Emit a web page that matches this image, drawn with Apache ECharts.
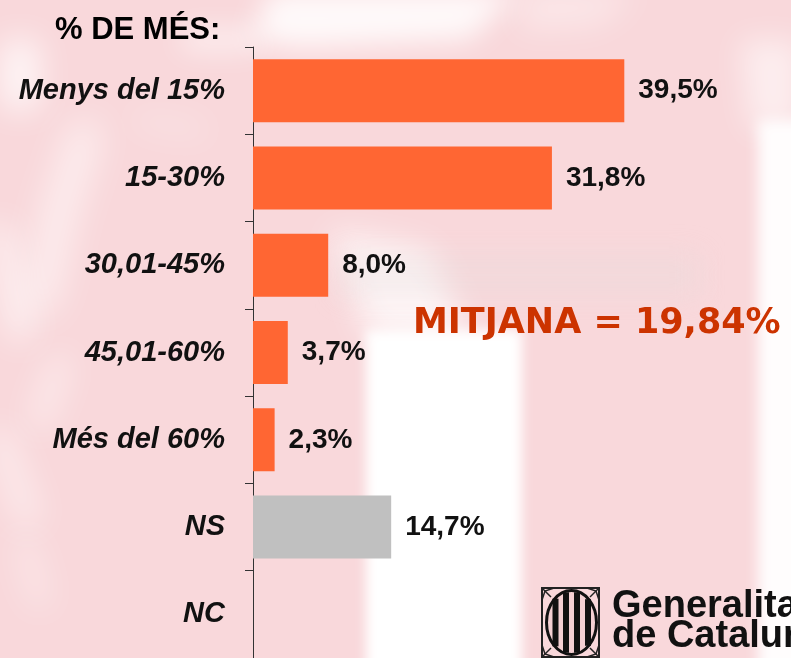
<!DOCTYPE html>
<html>
<head>
<meta charset="utf-8">
<script src="https://cdn.jsdelivr.net/npm/echarts@6/dist/echarts.min.js"></script>
<style>
html,body{margin:0;padding:0;background:#f9d8db;}
#c{width:791px;height:658px;}
</style>
</head>
<body>
<div id="c"></div>
<script>
const categories = ['Menys del 15%', '15-30%', '30,01-45%', '45,01-60%', 'Més del 60%', 'NS', 'NC'];
const values = [39.5, 31.8, 8.0, 3.7, 2.3, 14.7, null];
const titleText = '% DE MÉS:';
const meanText = 'MITJANA = 19,84%';
const logoLines = ['Generalitat', 'de Catalunya'];

const W = 791, H = 658;

// blurred decorative watermark backdrop, rendered to a canvas and shown as an ECharts image
function makeBackdrop() {
  const cv = document.createElement('canvas');
  cv.width = W; cv.height = H;
  const ctx = cv.getContext('2d');
  ctx.fillStyle = '#f9d8db';
  ctx.fillRect(0, 0, W, H);
  function blob(pts, alpha, blur) {
    ctx.save();
    ctx.filter = 'blur(' + blur + 'px)';
    ctx.globalAlpha = alpha;
    ctx.fillStyle = '#ffffff';
    ctx.beginPath();
    ctx.moveTo(pts[0][0], pts[0][1]);
    for (let i = 1; i < pts.length; i++) ctx.lineTo(pts[i][0], pts[i][1]);
    ctx.closePath();
    ctx.fill();
    ctx.restore();
  }
  function stroke(pts, width, alpha, blur) {
    ctx.save();
    ctx.filter = 'blur(' + blur + 'px)';
    ctx.globalAlpha = alpha;
    ctx.strokeStyle = '#ffffff';
    ctx.lineWidth = width;
    ctx.lineCap = 'round';
    ctx.beginPath();
    ctx.moveTo(pts[0][0], pts[0][1]);
    for (let i = 1; i < pts.length; i++) ctx.lineTo(pts[i][0], pts[i][1]);
    ctx.stroke();
    ctx.restore();
  }
  // lower white column
  blob([[366, 330], [522, 330], [522, 700], [366, 700]], 1, 6);
  blob([[330, 230], [430, 250], [470, 340], [370, 340]], 0.75, 16);
  // right white column
  blob([[758, 120], [820, 120], [820, 700], [758, 700]], 0.95, 7);
  blob([[740, 40], [800, 40], [800, 130], [750, 130]], 0.55, 15);
  // top haze
  blob([[270, -10], [520, -10], [470, 40], [300, 48], [250, 40]], 0.85, 14);
  blob([[520, -10], [640, -10], [600, 25], [520, 30]], 0.4, 16);
  // faint grey watermark band
  ctx.save();
  ctx.filter = 'blur(14px)';
  ctx.globalAlpha = 0.35;
  ctx.fillStyle = '#e6dcdd';
  ctx.fillRect(340, 255, 360, 40);
  ctx.restore();
  // left swirl (soft)
  blob([[0, 40], [40, 40], [40, 110], [0, 110]], 0.75, 16);
  stroke([[85, 135], [60, 210], [40, 300]], 30, 0.65, 18);
  stroke([[0, 235], [20, 330]], 26, 0.6, 16);
  stroke([[60, 365], [40, 420]], 22, 0.5, 16);
  stroke([[0, 440], [28, 515]], 26, 0.5, 16);
  stroke([[25, 545], [40, 600]], 20, 0.4, 16);
  stroke([[190, 40], [250, 40]], 20, 0.65, 14);
  stroke([[140, 120], [200, 130]], 16, 0.3, 16);
  return cv;
}

const chart = echarts.init(document.getElementById('c'), null, {renderer: 'canvas'});

const stripeX = [555.5, 566, 577, 588];
const logo = [
  {type: 'rect', z: 4, silent: true, shape: {x: 542, y: 588, width: 57, height: 69},
   style: {fill: 'none', stroke: '#222', lineWidth: 2}},
  {type: 'ellipse', z: 4, silent: true, shape: {cx: 571.5, cy: 622.5, rx: 25, ry: 32},
   style: {fill: '#f4d0d3', stroke: '#111', lineWidth: 3}}
];
stripeX.forEach(function (sx) {
  const dx = (sx - 571.5) / 25;
  const hh = 31 * Math.sqrt(Math.max(0, 1 - dx * dx));
  logo.push({type: 'rect', z: 5, silent: true,
    shape: {x: sx - 3, y: 622.5 - hh, width: 6, height: hh * 2}, style: {fill: '#111'}});
});
[[542, 588, 1, 1], [599, 588, -1, 1], [542, 657, 1, -1], [599, 657, -1, -1]].forEach(function (c) {
  logo.push({type: 'polyline', z: 5, silent: true,
    shape: {points: [[c[0], c[1] + c[3] * 12], [c[0] + c[2] * 3, c[1] + c[3] * 3], [c[0] + c[2] * 12, c[1]]]},
    style: {fill: 'none', stroke: '#222', lineWidth: 1.5}});
  logo.push({type: 'line', z: 5, silent: true,
    shape: {x1: c[0], y1: c[1], x2: c[0] + c[2] * 9, y2: c[1] + c[3] * 9},
    style: {stroke: '#222', lineWidth: 1.5}});
});

const option = {
  backgroundColor: '#f9d8db',
  animation: false,
  grid: {left: 253, right: 68, top: 47, height: 614, containLabel: false},
  xAxis: {type: 'value', min: 0, max: 50, show: false},
  yAxis: {
    type: 'category',
    data: categories,
    inverse: true,
    axisLine: {show: true, lineStyle: {color: '#333', width: 1}},
    axisTick: {show: true, length: 8, lineStyle: {color: '#333'}},
    axisLabel: {
      margin: 28,
      fontFamily: 'Liberation Sans, Arial, sans-serif',
      fontSize: 29, fontWeight: 'bold', fontStyle: 'italic', color: '#111'
    },
    splitLine: {show: false}
  },
  series: [{
    type: 'bar',
    data: values,
    barWidth: 63,
    itemStyle: {
      color: function (p) { return p.name === 'NS' ? '#c0c0c0' : '#ff6633'; }
    },
    label: {
      show: true, position: 'right', distance: 14,
      fontFamily: 'Liberation Sans, Arial, sans-serif',
      fontSize: 28, fontWeight: 'bold', color: '#111',
      formatter: function (p) { return p.value == null ? '' : p.value.toFixed(1).replace('.', ',') + '%'; }
    }
  }],
  graphic: [
    {type: 'image', z: -20, silent: true,
     style: {image: makeBackdrop(), x: 0, y: 0, width: W, height: H}},
    {
      type: 'text', left: 55, top: 15, z: 10,
      style: {text: titleText, font: 'bold 31px "Liberation Sans", Arial, sans-serif', fill: '#000'}
    },
    {
      type: 'text', left: 413, top: 306, z: 10,
      style: {text: meanText, font: 'bold 35px "DejaVu Sans", Verdana, sans-serif', fill: '#cc3300'}
    },
    ...logo,
    {
      type: 'text', left: 612, top: 588, z: 10,
      style: {text: logoLines[0], font: 'bold 38px "Liberation Sans", Arial, sans-serif', fill: '#111'}
    },
    {
      type: 'text', left: 612, top: 618, z: 10,
      style: {text: logoLines[1], font: 'bold 38px "Liberation Sans", Arial, sans-serif', fill: '#111'}
    }
  ]
};
chart.setOption(option);
</script>
</body>
</html>
